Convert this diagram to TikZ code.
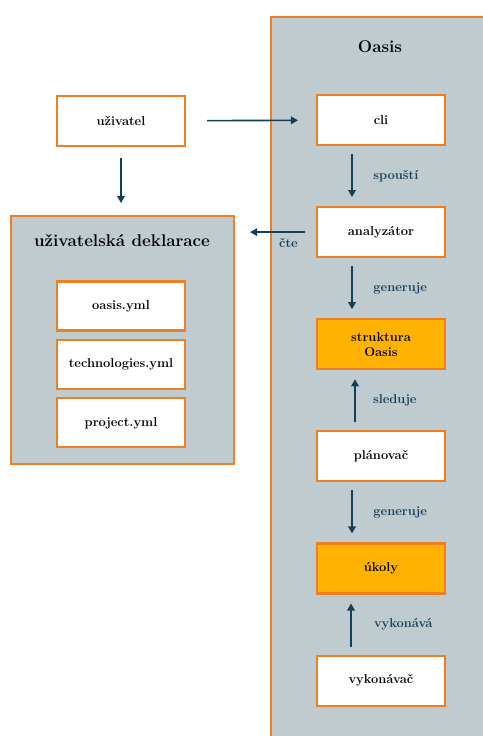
\documentclass[tikz,border=0pt]{standalone}
\usepackage{xcolor}
\usepackage{tikz}
\usetikzlibrary{arrows.meta, positioning}
\definecolor{oasisgray}{HTML}{C0CBD0}
\definecolor{oasisorange}{HTML}{EE7F22}
\definecolor{oasisamber}{HTML}{FFB300}
\definecolor{oasisnavy}{HTML}{123F5A}

\begin{document}
\begin{tikzpicture}[
        x = 0.03cm, y = -0.03cm,
        node distance = 1.8cm,
        box/.style = {rectangle, draw=oasisorange, line width=1.8pt, fill=white, minimum width=3.84cm, minimum height=1.5cm, font=\fontsize{11}{13}\selectfont\bfseries},
        hot/.style = {box, fill=oasisamber, align=center},
        yml/.style = {box, minimum height=1.47cm},
        group/.style = {rectangle, draw=oasisorange, line width=1.8pt, fill=oasisgray, anchor=north west, inner sep=0pt},
        heading/.style = {font=\fontsize{14.5}{17}\selectfont\bfseries},
        edge/.style = {-{Triangle[length=6pt, width=6.5pt]}, line width=1.4pt, draw=oasisnavy, shorten <=0.24cm, shorten >=0.27cm},
        verb/.style = {font=\fontsize{11}{13}\selectfont\bfseries, text=oasisnavy}
    ]
    \useasboundingbox (0,0) rectangle (483,736);
    \clip (0,0) rectangle (483,736);

    % containers
    \node[group, minimum width=7.8cm, minimum height=22.5cm] (oasis) at (270,16) {};
    \node[heading] (oasistitle) at (380,47) {Oasis};
    \node[group, minimum width=6.69cm, minimum height=7.44cm] (decl) at (10,215) {};
    \node[heading] (decltitle) at (122,241) {uživatelská deklarace};

    % Oasis pipeline
    \node[box] (cli) at (381,120) {cli};
    \node[box, below=of cli] (ana) {analyzátor};
    \node[hot, below=of ana] (struct) {struktura\\Oasis};
    \node[box, below=of struct] (plan) {plánovač};
    \node[hot, below=of plan] (tasks) {úkoly};
    \node[box, below=of tasks] (exec) {vykonávač};

    % user side
    \node[box] (user) at (121,121) {uživatel};
    \node[yml] (oasisyml) at (121,306) {oasis.yml};
    \node[yml, below=0.22cm of oasisyml] (techyml) {technologies.yml};
    \node[yml, below=0.22cm of techyml] (projyml) {project.yml};

    \draw[edge, shorten <=0.63cm, shorten >=0.54cm] (user) -- (cli);
    \draw[edge, shorten <=0.33cm, shorten >=0.36cm] (user) -- (user |- decl.north);
    \draw[edge] ([xshift=-0.87cm]cli.south) -- ([xshift=-0.87cm]cli.south |- ana.north)
        node[verb, midway, right=0.5cm] {spouští};
    \draw[edge, shorten <=0.33cm, shorten >=0.45cm] (ana.west) -- (ana.west -| decl.east)
        node[verb, pos=0.34, below=1pt] {čte};
    \draw[edge] ([xshift=-0.87cm]ana.south) -- ([xshift=-0.87cm]ana.south |- struct.north)
        node[verb, midway, right=0.5cm] {generuje};
    \draw[edge] ([xshift=-0.78cm]plan.north) -- ([xshift=-0.78cm]plan.north |- struct.south)
        node[verb, midway, right=0.4cm] {sleduje};
    \draw[edge] ([xshift=-0.87cm]plan.south) -- ([xshift=-0.87cm]plan.south |- tasks.north)
        node[verb, midway, right=0.5cm] {generuje};
    \draw[edge] ([xshift=-0.9cm]exec.north) -- ([xshift=-0.9cm]exec.north |- tasks.south)
        node[verb, midway, right=0.55cm] {vykonává};
\end{tikzpicture}
\end{document}
